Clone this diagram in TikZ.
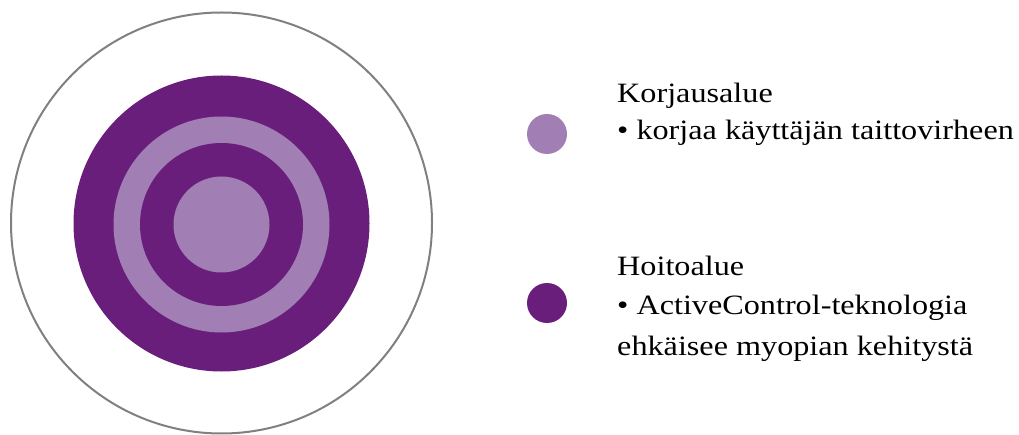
\documentclass[tikz,border=0pt]{standalone}
\usepackage{fontspec}
\usepackage{graphicx}
\setmainfont{Liberation Serif}
\definecolor{darkpurple}{HTML}{6A1E7B}
\definecolor{lightpurple}{HTML}{A17FB4}
\newcommand{\wideText}[1]{\scalebox{1.15}[1]{#1}}
\begin{document}
\begin{tikzpicture}[x=1pt,y=-1pt,
  disc/.style={circle,inner sep=0pt,draw=none},
  legtext/.style={anchor=base west,inner sep=0pt,font=\fontsize{28}{34}\selectfont},
]
\useasboundingbox (0,0) rectangle (1019,435);
\node[circle,inner sep=0pt,minimum size=421pt,draw={rgb,255:red,128;green,128;blue,128},line width=2pt] (outer) at (221.5,223) {};
\node[disc,fill=darkpurple,minimum size=296pt] (treat) at (221.5,223.5) {};
\node[disc,fill=lightpurple,minimum size=216pt] (ring) at (221.5,224.5) {};
\node[disc,fill=darkpurple,minimum size=163pt] (ringin) at (221.5,224.5) {};
\node[disc,fill=lightpurple,minimum size=96pt] (core) at (221.5,224.5) {};

\node[disc,fill=lightpurple,minimum size=40pt] (dotA) at (547,134) {};
\node[disc,fill=darkpurple,minimum size=40pt] (dotB) at (547,303) {};

\node[legtext] (titleA) at (617,103) {\wideText{Korjausalue}};
\node[legtext] (textA) at (617,140) {\wideText{\textbullet\ korjaa käyttäjän taittovirheen}};
\node[legtext] (titleB) at (617,276) {\wideText{Hoitoalue}};
\node[legtext] (textB1) at (617,315) {\wideText{\textbullet\ ActiveControl-teknologia}};
\node[legtext] (textB2) at (617,355) {\wideText{ehkäisee myopian kehitystä}};
\end{tikzpicture}
\end{document}
